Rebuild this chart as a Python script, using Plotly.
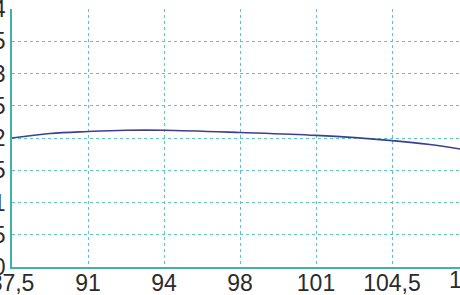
import plotly.graph_objects as go

# data
x_vals = [87.5, 89.25, 91, 92.75, 94.5, 98, 101.5, 105, 106.75, 108.5]
y_vals = [2.00, 2.07, 2.10, 2.12, 2.12, 2.085, 2.04, 1.96, 1.90, 1.81]
x_tickvals = [87.5, 91, 94.5, 98, 101.5, 105, 108.5]
x_ticktext = ["87,5", "91", "94", "98", "101", "104,5", "108"]

grid_c = "#5ec8c8"
axis_c = "#3fb3aa"
font_c = "#2b2b2b"
FONT = "Liberation Sans, Arial, sans-serif"

fig = go.Figure()
fig.add_trace(go.Scatter(x=x_vals, y=y_vals, mode="lines", line=dict(color="#3f3f91", width=1.6, shape="spline"),
                         hoverinfo="skip", showlegend=False))

x0 = x_tickvals[0]
x_end = x0 + 448 / 76 * 3.5

fig.update_layout(
    width=460, height=295,
    margin=dict(l=12, r=0, t=9, b=28, autoexpand=False),
    paper_bgcolor="white", plot_bgcolor="white",
    separators=",.",
    font=dict(family=FONT, size=23, color=font_c),
    xaxis=dict(range=[x0, x_end], tickvals=x_tickvals, ticktext=x_ticktext,
               showgrid=True, gridcolor=grid_c, griddash="dot", gridwidth=1,
               showline=True, linecolor=axis_c, linewidth=1.5, zeroline=False,
               ticks="", fixedrange=True, automargin=False, ticklabeloverflow="allow",
               ticklabelstandoff=-5),
    yaxis=dict(range=[0, 4], dtick=0.5, tick0=0,
               showgrid=True, gridcolor=grid_c, griddash="dot", gridwidth=1,
               showline=True, linecolor=axis_c, linewidth=1.5, zeroline=False,
               ticks="", fixedrange=True, automargin=False, ticklabeloverflow="allow"),
)

# last tick label lies beyond the visible plot edge
fig.add_annotation(x=(x_tickvals[-1] - x0) / (x_end - x0), y=0, xref="paper", yref="paper", text=x_ticktext[-1],
                   showarrow=False, yanchor="top", xanchor="center", yshift=2,
                   font=dict(family=FONT, size=23, color=font_c))

fig.write_html("out.html", config={"displayModeBar": False})
